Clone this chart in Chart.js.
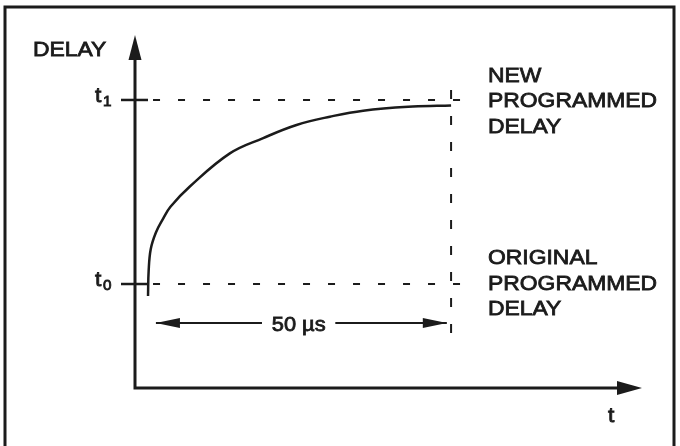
<!DOCTYPE html>
<html>
<head>
<meta charset="utf-8">
<script src="https://cdn.jsdelivr.net/npm/chart.js@4/dist/chart.umd.min.js"></script>
<style>
  html, body { margin: 0; padding: 0; background: #fff; }
  #wrap { width: 680px; height: 446px; position: relative; }
</style>
</head>
<body>
<div id="wrap"><canvas id="chart"></canvas></div>
<script>
// time axis in µs (0 = start of the change), delay axis: t0 = 10, t1 = 20
var curveX = [0, 0.1, 0.45, 1.3, 2.4, 3.7, 6.9, 13.5, 19.0, 24.5, 30.0, 35.5, 43.7, 50.0]
var curveY = [9.35, 10.7, 11.9, 12.8, 13.5, 14.2, 15.3, 17.1, 17.93, 18.64, 19.09, 19.42, 19.64, 19.7]

var tickValues = [10, 20]
var tickSubs   = ['0', '1']
var dashEndX   = 52.3
var stepX      = 50
var stepY      = [7.34, 20.76]
var spanY      = 7.88
var spanLeft   = [1.3, 18.8]
var spanRight  = [30.9, 49.3]
var spanText   = '50 µs'
var newLabel   = ['NEW', 'PROGRAMMED', 'DELAY']
var origLabel  = ['ORIGINAL', 'PROGRAMMED', 'DELAY']
var yTitle     = 'DELAY'
var xTitle     = 't'

var ink = '#1b1b1b'

function pts(xs, ys) {
  return xs.map(function (x, i) { return { x: x, y: ys[i] } })
}

function txt(ctx, s, x, y, size, align) {
  ctx.save()
  ctx.font = size + 'px "Liberation Sans", Arial, sans-serif'
  ctx.translate(x, y)
  ctx.scale(1.09, 1)
  ctx.textAlign = align || 'left'
  ctx.textBaseline = 'alphabetic'
  ctx.fillStyle = ink
  ctx.strokeStyle = ink
  ctx.lineWidth = 0.8
  ctx.fillText(s, 0, 0)
  ctx.strokeText(s, 0, 0)
  ctx.restore()
}

function head(ctx, tipX, tipY, dx, dy, len, half) {
  // dx, dy: unit direction the arrow points to
  ctx.beginPath()
  ctx.moveTo(tipX, tipY)
  ctx.lineTo(tipX - dx * len - dy * half, tipY - dy * len + dx * half)
  ctx.lineTo(tipX - dx * len + dy * half, tipY - dy * len - dx * half)
  ctx.closePath()
  ctx.fill()
}

var decor = {
  id: 'decor',
  afterDatasetsDraw: function (chart) {
    var ctx = chart.ctx
    var xs = chart.scales.x
    var ys = chart.scales.y
    var area = chart.chartArea
    var ax = xs.getPixelForValue(xs.min)
    var ay = ys.getPixelForValue(ys.min)

    ctx.save()
    ctx.strokeStyle = ink
    ctx.fillStyle = ink
    ctx.lineCap = 'butt'

    // frame
    ctx.lineWidth = 3
    ctx.beginPath()
    ctx.moveTo(5, 446)
    ctx.lineTo(5, 7)
    ctx.lineTo(674, 7)
    ctx.lineTo(674, 446)
    ctx.stroke()

    // axes
    ctx.lineWidth = 3
    ctx.beginPath()
    ctx.moveTo(ax, area.top + 10)
    ctx.lineTo(ax, ay)
    ctx.lineTo(area.right - 10, ay)
    ctx.stroke()
    head(ctx, ax, area.top, 0, -1, 25, 6.5)
    head(ctx, area.right, ay, 1, 0, 25, 7)

    // tick marks and labels
    ctx.lineWidth = 2.5
    tickValues.forEach(function (v, i) {
      var py = ys.getPixelForValue(v)
      ctx.beginPath()
      ctx.moveTo(ax - 14, py)
      ctx.lineTo(xs.getPixelForValue(0), py)
      ctx.stroke()
      txt(ctx, 't', ax - 40, py + 2, 21, 'left')
      txt(ctx, tickSubs[i], ax - 32, py + 6, 14, 'left')
    })

    // dimension arrowheads and text
    var sy = ys.getPixelForValue(spanY)
    head(ctx, xs.getPixelForValue(spanLeft[0]), sy, -1, 0, 24, 5)
    head(ctx, xs.getPixelForValue(spanRight[1]), sy, 1, 0, 24, 5)
    var mid = (xs.getPixelForValue(spanLeft[1]) + xs.getPixelForValue(spanRight[0])) / 2
    txt(ctx, spanText, mid, sy + 8, 20, 'center')

    // titles
    txt(ctx, yTitle, 33, 56, 21, 'left')
    txt(ctx, xTitle, 608, 422, 21, 'left')

    // right-hand notes
    var lx = 488
    var y1 = ys.getPixelForValue(tickValues[1])
    newLabel.forEach(function (s, i) { txt(ctx, s, lx, y1 - 18 + i * 25.5, 21, 'left') })
    var y0 = ys.getPixelForValue(tickValues[0])
    origLabel.forEach(function (s, i) { txt(ctx, s, lx, y0 - 20 + i * 25.5, 21, 'left') })

    ctx.restore()
  }
}

var lineBase = { showLine: true, pointRadius: 0, borderColor: ink, fill: false }

new Chart(document.getElementById('chart'), {
  type: 'scatter',
  data: {
    datasets: [
      Object.assign({}, lineBase, {
        label: 'delay',
        data: pts(curveX, curveY),
        borderWidth: 2.5,
        tension: 0.4
      }),
      Object.assign({}, lineBase, {
        label: 't1',
        data: pts([0, dashEndX], [tickValues[1], tickValues[1]]),
        borderWidth: 2,
        borderDash: [7, 18],
        borderDashOffset: -5
      }),
      Object.assign({}, lineBase, {
        label: 't0',
        data: pts([0, dashEndX], [tickValues[0], tickValues[0]]),
        borderWidth: 2,
        borderDash: [7, 18],
        borderDashOffset: -5
      }),
      Object.assign({}, lineBase, {
        label: 'step',
        data: pts([stepX, stepX], stepY),
        borderWidth: 2,
        borderDash: [9, 17]
      }),
      Object.assign({}, lineBase, {
        label: 'spanL',
        data: pts(spanLeft, [spanY, spanY]),
        borderWidth: 2
      }),
      Object.assign({}, lineBase, {
        label: 'spanR',
        data: pts(spanRight, [spanY, spanY]),
        borderWidth: 2
      })
    ]
  },
  options: {
    responsive: true,
    maintainAspectRatio: false,
    animation: false,
    layout: { padding: { left: 135, right: 38, top: 35, bottom: 58 } },
    plugins: {
      legend: { display: false },
      tooltip: { enabled: false }
    },
    scales: {
      x: { type: 'linear', min: -2.15, max: 81.5, display: false },
      y: { type: 'linear', min: 4.35, max: 23.53, display: false }
    }
  },
  plugins: [decor]
})
</script>
</body>
</html>
